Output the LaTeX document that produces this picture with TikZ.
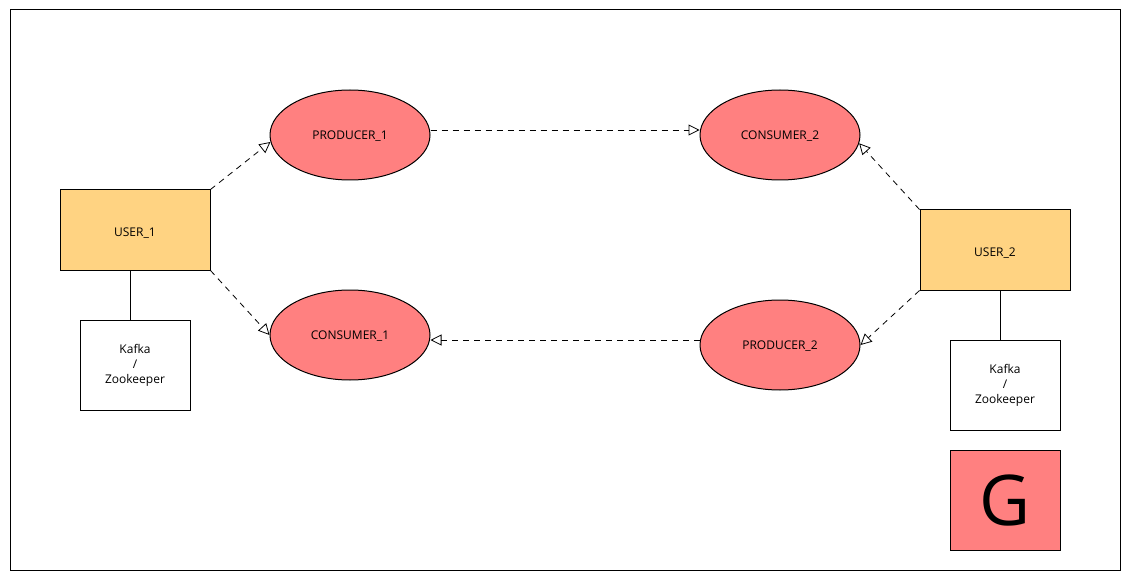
\documentclass[tikz,border=0pt]{standalone}
\usepackage{fontspec}
\setmainfont{Open Sans}
\usetikzlibrary{arrows.meta,shapes.geometric}
\definecolor{userfill}{HTML}{FFD382}
\definecolor{redfill}{HTML}{FF8080}
\begin{document}
\begin{tikzpicture}[x=1pt,y=-1pt,
  every node/.style={font=\fontsize{12}{15}\selectfont, inner sep=0pt},
  userbox/.style={draw, line width=1pt, fill=userfill, minimum width=150pt, minimum height=80pt, text height=13.6pt, text depth=0pt},
  kafkabox/.style={draw, line width=1pt, fill=white, minimum width=110pt, minimum height=90pt, align=center},
  proc/.style={ellipse, draw, line width=1pt, fill=redfill, minimum width=160pt, minimum height=90pt, text height=8.6pt, text depth=0pt},
  flow/.style={draw, line width=0.8pt, dash pattern=on 6pt off 5pt, -{Triangle[open, length=11pt, width=11pt]}},
  plain/.style={draw, line width=1pt}
]
\useasboundingbox (0,0) rectangle (1130,580);
\draw[line width=1pt] (10,10) rectangle (1120,570);

\node[userbox] (u1) at (135,230) {USER\_1};
\node[kafkabox] (k1) at (135,365) {Kafka\\/\\Zookeeper};
\node[proc] (p1) at (350,135) {PRODUCER\_1};
\node[proc] (c1) at (350,335) {CONSUMER\_1};
\node[proc] (c2) at (780,135) {CONSUMER\_2};
\node[proc] (p2) at (780,345) {PRODUCER\_2};
\node[userbox] (u2) at (995,250) {USER\_2};
\node[kafkabox] (k2) at (1005,385) {Kafka\\/\\Zookeeper};
\node[draw, line width=1pt, fill=redfill, minimum width=110pt, minimum height=100pt, font=\fontsize{70}{70}\selectfont] (g) at (1005,500) {G};

\draw[plain] ([xshift=-5pt]u1.south) -- ([xshift=-5pt]k1.north);
\draw[plain] ([xshift=5pt]u2.south) -- ([xshift=-5pt]k2.north);

\draw[flow] (u1.north east) -- (p1.185);
\draw[flow] (u1.south east) -- (c1.west);
\draw[flow] ([yshift=5pt]p1.east) -- ([yshift=5pt]c2.west);
\draw[flow] ([yshift=5pt]p2.west) -- ([yshift=-5pt]c1.east);
\draw[flow] (u2.north west) -- (c2.-6);
\draw[flow] (u2.south west) -- (p2.east);
\end{tikzpicture}
\end{document}
